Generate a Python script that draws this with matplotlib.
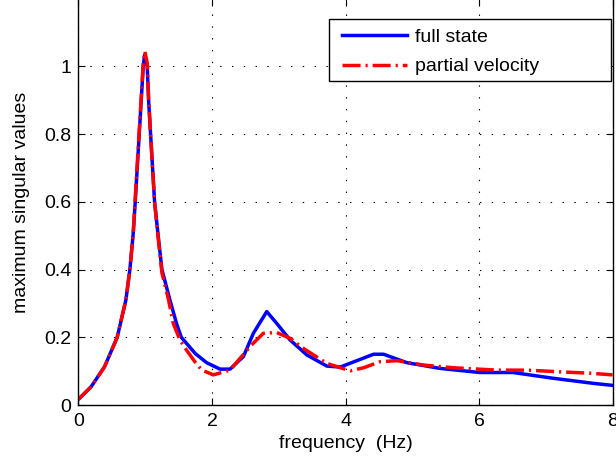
import numpy as np
import matplotlib
matplotlib.use('Agg')
import matplotlib.pyplot as plt
from matplotlib.lines import Line2D
from matplotlib.patches import Rectangle

plt.rcParams['font.family'] = ['Liberation Sans', 'DejaVu Sans']
plt.rcParams['lines.scale_dashes'] = False

# frequency (Hz) and max singular values
freq_full = [0, 0.19, 0.39, 0.58, 0.71, 0.77, 0.82, 0.85, 0.88, 0.91, 0.94, 0.97, 0.99,
             1.03, 1.05, 1.08, 1.11, 1.14, 1.19, 1.25, 1.37, 1.47, 1.54, 1.75, 1.92,
             2.12, 2.27, 2.47, 2.62, 2.82, 2.97, 3.17, 3.42, 3.72, 3.92, 4.17, 4.42,
             4.57, 4.92, 5.42, 6.01, 6.51, 7.11, 7.71, 8.0]
sv_full = [0.017, 0.054, 0.113, 0.20, 0.31, 0.40, 0.507, 0.60, 0.70, 0.80, 0.90, 1.0, 1.034,
           1.0, 0.90, 0.80, 0.70, 0.60, 0.507, 0.40, 0.31, 0.24, 0.20, 0.152, 0.125,
           0.106, 0.106, 0.143, 0.212, 0.276, 0.241, 0.192, 0.148, 0.115, 0.112, 0.131, 0.150,
           0.150, 0.125, 0.108, 0.096, 0.096, 0.079, 0.064, 0.058]

freq_part = [0, 0.19, 0.39, 0.58, 0.71, 0.77, 0.82, 0.85, 0.88, 0.91, 0.94, 0.97, 0.995,
             1.03, 1.05, 1.08, 1.11, 1.14, 1.19, 1.25, 1.35, 1.42, 1.52, 1.62, 1.76,
             1.85, 2.02, 2.27, 2.59, 2.77, 2.97, 3.17, 3.37, 3.72, 4.07, 4.27, 4.52,
             4.77, 5.17, 5.62, 6.27, 6.72, 7.21, 7.66, 8.0]
sv_part = [0.017, 0.054, 0.113, 0.20, 0.31, 0.40, 0.507, 0.61, 0.71, 0.81, 0.91, 1.01, 1.044,
           1.01, 0.91, 0.80, 0.70, 0.60, 0.50, 0.39, 0.31, 0.241, 0.192, 0.162, 0.123,
           0.103, 0.089, 0.103, 0.177, 0.212, 0.214, 0.197, 0.167, 0.123, 0.101, 0.110, 0.128,
           0.131, 0.118, 0.110, 0.103, 0.103, 0.098, 0.094, 0.089]

labels = ['full state', 'partial velocity']
dashdot = [13, 3.6, 1.5, 3.6]

fig = plt.figure(figsize=(6.16, 4.68), dpi=100)
ax = fig.add_axes([0.1274, 0.1346, 0.867, 0.868])

ax.plot(freq_full, sv_full, '-', color='#0000ff', lw=2.5, label=labels[0])
ax.plot(freq_part, sv_part, color='#ff0000', lw=2.5, dashes=dashdot, label=labels[1])

ax.set_xlim(0, 8)
ax.set_ylim(0, 1.2)
ax.set_xticks([0, 2, 4, 6, 8])
ax.set_yticks([0, 0.2, 0.4, 0.6, 0.8, 1])
ax.set_yticklabels(['0', '0.2', '0.4', '0.6', '0.8', '1'])
ax.tick_params(direction='in', top=True, right=True, labelsize=14, length=5)
ax.tick_params(axis='x', pad=6)
ax.tick_params(axis='y', pad=5)
ax.grid(True, color='black', linestyle=(0, (1, 7.5)), linewidth=0.8)
for s in ax.spines.values():
    s.set_linewidth(1.0)

ax.set_xlabel('frequency  (Hz)', fontsize=14, labelpad=3)
ax.set_ylabel('maximum singular values', fontsize=14, labelpad=10)

# legend box in the MATLAB style (wide frame)
ax.add_patch(Rectangle((0.469, 0.798), 0.528, 0.152, transform=ax.transAxes,
                       facecolor='white', edgecolor='black', lw=1.0, zorder=5))
handles = [Line2D([], [], color='#0000ff', lw=2.5),
           Line2D([], [], color='#ff0000', lw=2.5, dashes=dashdot)]
leg = ax.legend(handles, labels, loc='upper left', bbox_to_anchor=(0.4935, 0.928),
                frameon=False, fontsize=14, borderpad=0, borderaxespad=0,
                handlelength=3.35, handletextpad=0.4, labelspacing=0.62)
leg.set_zorder(6)

fig.savefig('out.png', dpi=100)
